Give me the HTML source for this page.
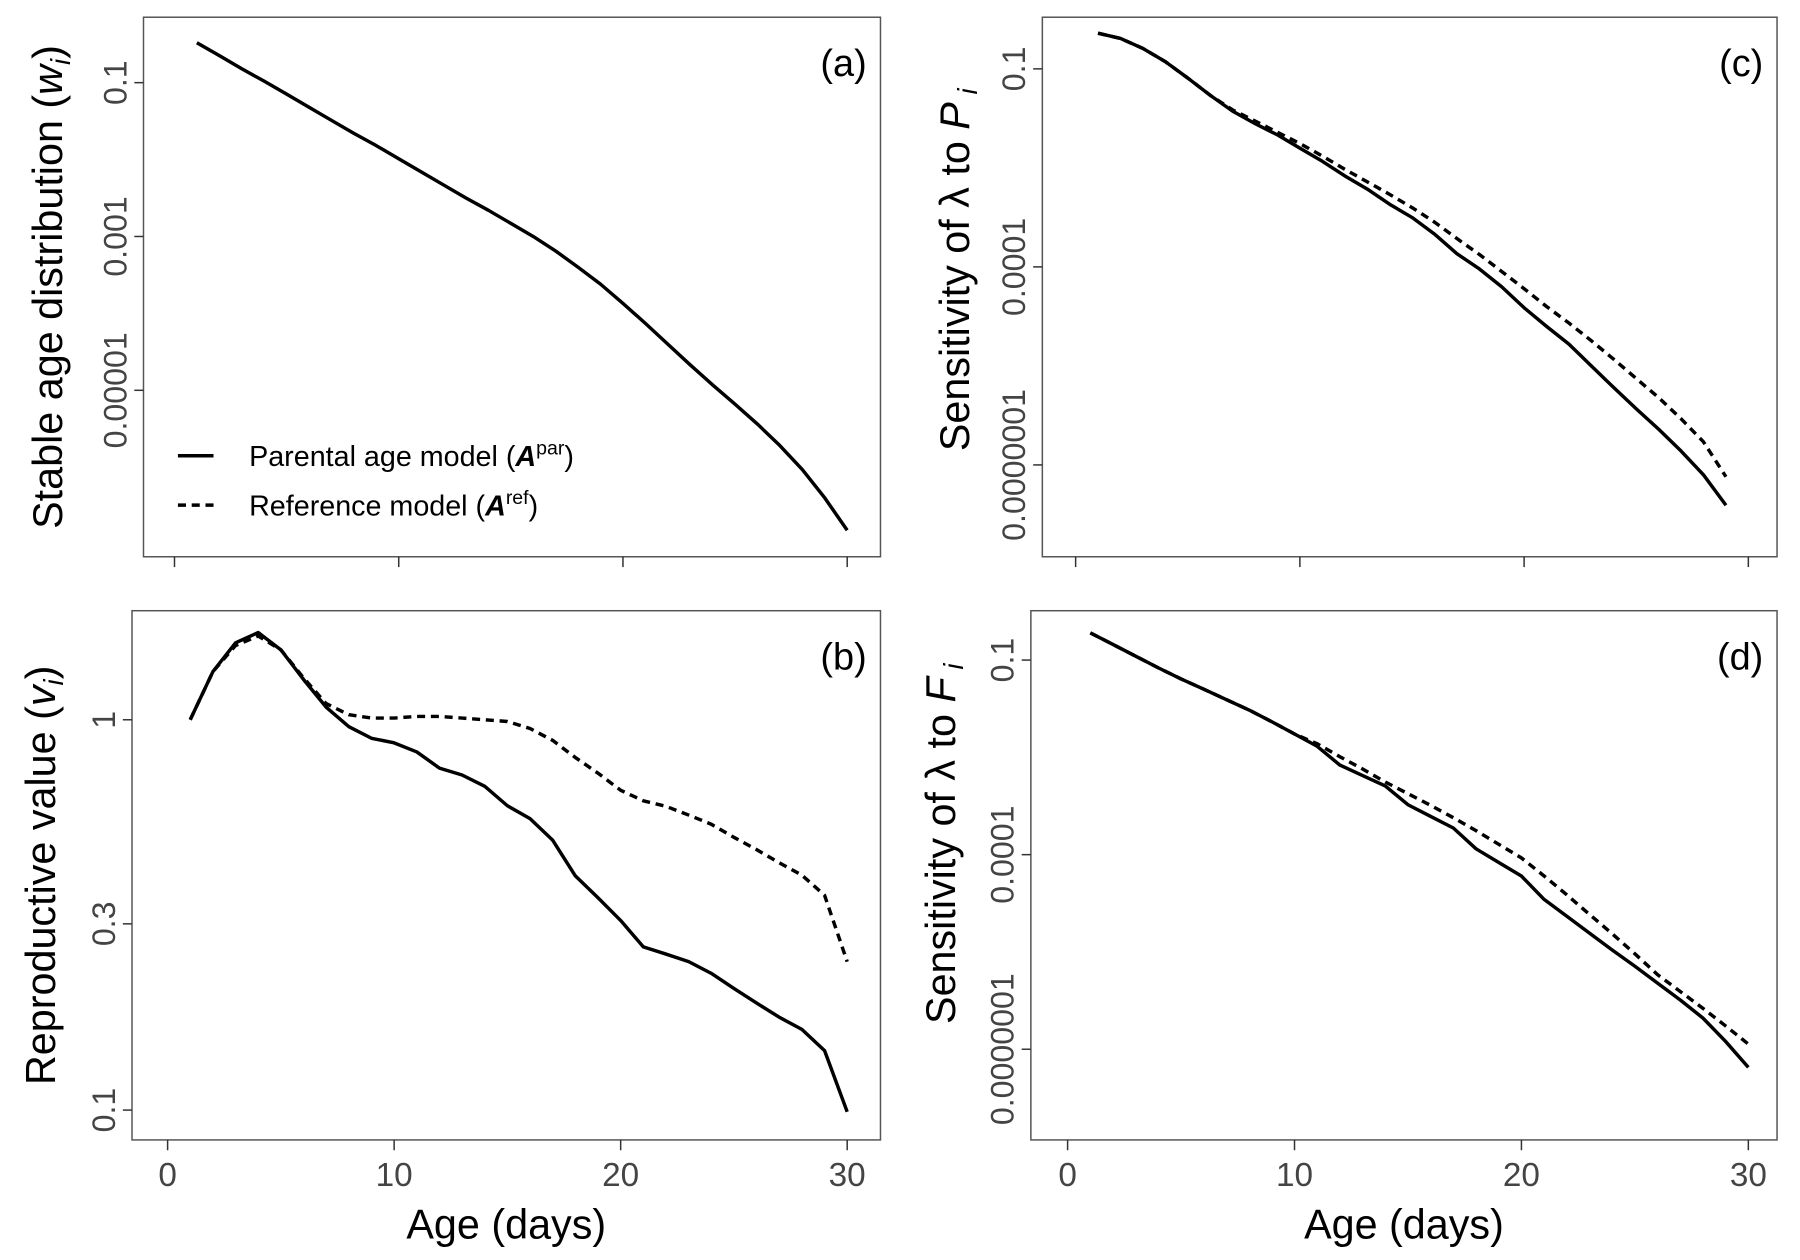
<!DOCTYPE html>
<html><head><meta charset="utf-8"><style>
html,body{margin:0;padding:0;background:#fff;}
svg{display:block;font-family:"Liberation Sans",sans-serif;}
</style></head><body>
<svg id="fig" width="1800" height="1260" viewBox="0 0 1568 1097.6" xmlns="http://www.w3.org/2000/svg"></svg>
<script>
// Panel data (log10 values), x = age in days
const daysA = [1,2,3,4,5,6,7,8,9,10,11,12,13,14,15,16,17,18,19,20,21,22,23,24,25,26,27,28,29,30];
const logStableAge = [-0.48,-0.65,-0.82,-0.98,-1.15,-1.32,-1.49,-1.66,-1.82,-1.99,-2.16,-2.33,-2.50,-2.66,-2.83,-3.00,-3.19,-3.40,-3.62,-3.87,-4.13,-4.40,-4.67,-4.93,-5.18,-5.44,-5.72,-6.03,-6.40,-6.82];
const daysB = [1,2,3,4,5,6,7,8,9,10,11,12,13,14,15,16,17,18,19,20,21,22,23,24,25,26,27,28,29,30];
const repValPar = [1.0,1.329,1.574,1.673,1.511,1.268,1.077,0.960,0.897,0.873,0.827,0.752,0.722,0.675,0.602,0.558,0.491,0.398,0.350,0.306,0.262,0.251,0.240,0.224,0.205,0.188,0.173,0.161,0.142,0.099];
const repValRef = [1.0,1.329,1.55,1.64,1.511,1.28,1.10,1.03,1.01,1.01,1.02,1.02,1.01,1.0,0.99,0.95,0.885,0.80,0.73,0.66,0.62,0.60,0.57,0.54,0.50,0.465,0.43,0.40,0.355,0.24];
const daysC = [1,2,3,4,5,6,7,8,9,10,11,12,13,14,15,16,17,18,19,20,21,22,23,24,25,26,27,28,29];
const logSensPPar = [-0.46,-0.54,-0.69,-0.89,-1.14,-1.40,-1.64,-1.83,-2.00,-2.20,-2.40,-2.62,-2.82,-3.05,-3.25,-3.50,-3.80,-4.03,-4.30,-4.62,-4.90,-5.17,-5.50,-5.83,-6.15,-6.46,-6.79,-7.15,-7.61];
const logSensPRef = [-0.46,-0.54,-0.69,-0.89,-1.14,-1.40,-1.62,-1.79,-1.96,-2.13,-2.32,-2.52,-2.71,-2.90,-3.10,-3.32,-3.57,-3.81,-4.07,-4.33,-4.60,-4.85,-5.12,-5.40,-5.69,-5.98,-6.30,-6.65,-7.18];
const daysD = [1,2,3,4,5,6,7,8,9,10,11,12,13,14,15,16,17,18,19,20,21,22,23,24,25,26,27,28,29,30];
const logSensFPar = [-0.58,-0.76,-0.94,-1.12,-1.29,-1.45,-1.61,-1.77,-1.95,-2.14,-2.33,-2.62,-2.78,-2.94,-3.23,-3.41,-3.59,-3.91,-4.12,-4.33,-4.69,-4.95,-5.21,-5.47,-5.72,-5.98,-6.24,-6.52,-6.88,-7.28];
const logSensFRef = [-0.58,-0.76,-0.94,-1.12,-1.29,-1.45,-1.61,-1.77,-1.95,-2.14,-2.29,-2.49,-2.68,-2.88,-3.06,-3.24,-3.43,-3.63,-3.84,-4.05,-4.33,-4.62,-4.92,-5.22,-5.53,-5.85,-6.11,-6.37,-6.64,-6.92];
const xTicks = [0,10,20,30];
const yTicksA = ["0.1","0.001","0.00001"];
const yTicksB = ["1","0.3","0.1"];
const yTicksC = ["0.1","0.0001","0.0000001"];

const NS="http://www.w3.org/2000/svg";
const svg=document.getElementById('fig');
function mk(tag,attrs,parent){const e=document.createElementNS(NS,tag);for(const k in attrs)e.setAttribute(k,attrs[k]);(parent||svg).appendChild(e);return e;}

function panel(cfg){
  const g=mk('g',{});
  
  
  const X=d=>cfg.x0+(cfg.x30-cfg.x0)*d/30;
  const Y=lv=>cfg.yRef+cfg.perDec*(cfg.refLog-lv);
  const box=mk('rect',{x:cfg.L,y:cfg.T,width:cfg.R-cfg.L,height:cfg.B-cfg.T,fill:'none',stroke:'#555','stroke-width':1.3},g);
  
  
  xTicks.forEach(t=>{
    const tk=mk('line',{x1:X(t),x2:X(t),y1:cfg.B,y2:cfg.B+9,stroke:'#333','stroke-width':1.3},g);
    
    
    if(cfg.xLabels){
      const tl=mk('text',{x:X(t),y:cfg.B+40,'text-anchor':'middle','font-size':29,fill:'#444'},g);
      tl.textContent=t;
      
      
    }
  });
  cfg.yTicks.forEach((lab,i)=>{
    const y=Y(cfg.tickLogs[i]);
    const tk=mk('line',{x1:cfg.L-8,x2:cfg.L,y1:y,y2:y,stroke:'#333','stroke-width':1.3},g);
    
    
    const tl=mk('text',{x:0,y:0,'text-anchor':'middle','font-size':28,fill:'#444',transform:`translate(${cfg.L-15},${y}) rotate(-90)`},g);
    tl.textContent=lab;
    
    
  });
  cfg.series.forEach(s=>{
    const pts=s.days.map((d,i)=>X(d).toFixed(1)+','+Y(s.logs[i]).toFixed(1)).join(' ');
    const pl=mk('polyline',{points:pts,fill:'none',stroke:'#000','stroke-width':3,'stroke-linejoin':'round','stroke-dasharray':s.dash?'7,5':'none'},g);
    
    
  });
  const pt=mk('text',{x:cfg.R-12,y:cfg.T+51,'text-anchor':'end','font-size':33,fill:'#000'},g);
  pt.textContent=cfg.tag;
  
  
  const yt=mk('text',{x:0,y:0,'text-anchor':'middle','font-size':36,fill:'#000',transform:`translate(${cfg.titleX},${cfg.titleY||(cfg.T+cfg.B)/2}) rotate(-90)`},g);
  yt.innerHTML=cfg.title;
  
  
  if(cfg.xLabels){
    const xt=mk('text',{x:(cfg.L+cfg.R)/2,y:cfg.B+86,'text-anchor':'middle','font-size':36,fill:'#000'},g);
    xt.textContent='Age (days)';
    
    
  }
  return g;
}
const lg=v=>Math.log10(v);
panel({name:'panel-a',tag:'(a)',L:125,R:767,T:15,B:485,x0:152,x30:738,yRef:72,refLog:-1,perDec:67,
  yTicks:yTicksA,tickLogs:[-1,-3,-5],xLabels:false,titleX:54,
  title:'Stable age distribution (<tspan font-style="italic">w</tspan><tspan font-style="italic" font-size="24" dy="7">i</tspan><tspan dy="-7">)</tspan>',
  series:[{name:'stable-age-line',days:daysA,logs:logStableAge}]});
panel({name:'panel-b',tag:'(b)',L:115,R:767,T:532,B:993,x0:146,x30:738,yRef:627,refLog:0,perDec:340,
  yTicks:yTicksB,tickLogs:[0,lg(0.3),-1],xLabels:true,titleX:48,
  title:'Reproductive value (<tspan font-style="italic">v</tspan><tspan font-style="italic" font-size="24" dy="7">i</tspan><tspan dy="-7">)</tspan>',
  series:[{name:'repro-ref-line',days:daysB,logs:repValRef.map(lg),dash:true},{name:'repro-par-line',days:daysB,logs:repValPar.map(lg)}]});
panel({name:'panel-c',tag:'(c)',L:908,R:1548,T:15,B:485,x0:937,x30:1523,yRef:60,refLog:-1,perDec:57.5,
  yTicks:yTicksC,tickLogs:[-1,-4,-7],xLabels:false,titleX:844,titleY:235,
  title:'Sensitivity of λ to <tspan font-style="italic">P</tspan><tspan font-style="italic" font-size="24" dy="7"> i</tspan>',
  series:[{name:'sens-p-ref-line',days:daysC,logs:logSensPRef,dash:true},{name:'sens-p-par-line',days:daysC,logs:logSensPPar}]});
panel({name:'panel-d',tag:'(d)',L:898,R:1548,T:532,B:993,x0:930,x30:1523,yRef:575,refLog:-1,perDec:56.5,
  yTicks:yTicksC,tickLogs:[-1,-4,-7],xLabels:true,titleX:832,titleY:735,
  title:'Sensitivity of λ to <tspan font-style="italic">F</tspan><tspan font-style="italic" font-size="24" dy="7"> i</tspan>',
  series:[{name:'sens-f-ref-line',days:daysD,logs:logSensFRef,dash:true},{name:'sens-f-par-line',days:daysD,logs:logSensFPar}]});

// legend
const leg=mk('g',{});


const l1=mk('line',{x1:155,x2:186,y1:397,y2:397,stroke:'#000','stroke-width':3},leg);


const l2=mk('line',{x1:155,x2:186,y1:440,y2:440,stroke:'#000','stroke-width':3,'stroke-dasharray':'7,5'},leg);


const t1=mk('text',{x:217,y:406,'font-size':25,fill:'#000'},leg);
t1.innerHTML='Parental age model (<tspan font-weight="bold" font-style="italic">A</tspan><tspan font-size="17" dy="-10">par</tspan><tspan dy="10">)</tspan>';


const t2=mk('text',{x:217,y:449,'font-size':25,fill:'#000'},leg);
t2.innerHTML='Reference model (<tspan font-weight="bold" font-style="italic">A</tspan><tspan font-size="17" dy="-10">ref</tspan><tspan dy="10">)</tspan>';


</script>
</body></html>
